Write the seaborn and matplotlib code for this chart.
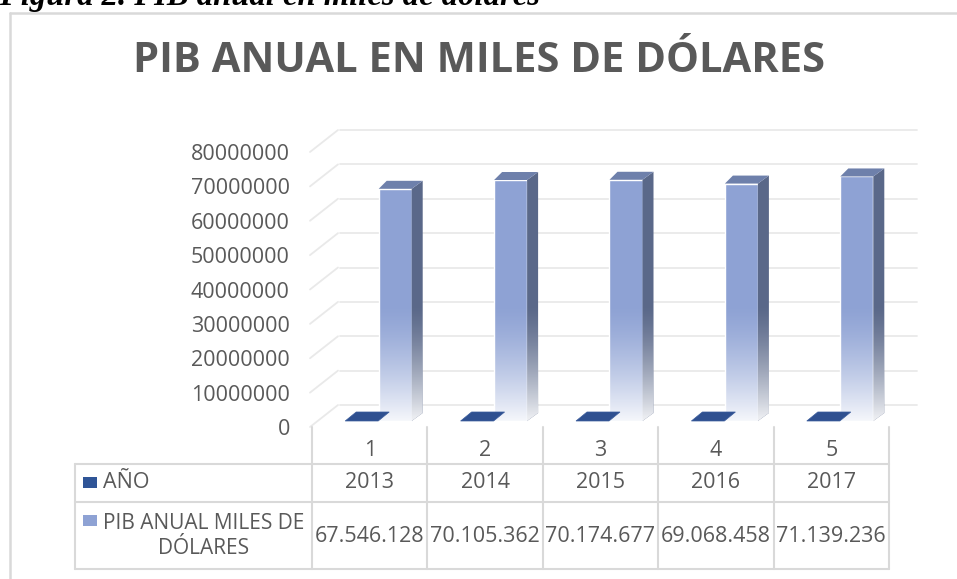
import numpy as np
import pandas as pd
import seaborn as sns
import matplotlib.pyplot as plt
from matplotlib.patches import Polygon, Rectangle
from matplotlib.lines import Line2D

# datos del grafico
categorias = ["1", "2", "3", "4", "5"]
anios = [2013, 2014, 2015, 2016, 2017]
pib = [67546128, 70105362, 70174677, 69068458, 71139236]
pib_txt = ["67.546.128", "70.105.362", "70.174.677", "69.068.458", "71.139.236"]
yticks = list(range(0, 80000001, 10000000))

W, H = 957, 579
gris = "#595959"
linea = "#D9D9D9"

sns.set_style("white")
plt.rcParams['font.family'] = ['Open Sans', 'DejaVu Sans']

fig = plt.figure(figsize=(W / 100, H / 100), dpi=100)
ax = fig.add_axes([312 / W, 1 - 427 / H, (889 - 312) / W, (427 - 152) / H])
ax.patch.set_visible(False)

df = pd.DataFrame({"cat": categorias, "anio": anios, "pib": pib})

sns.barplot(data=df, x="cat", y="pib", color="#8EA2D4", width=0.286,
            saturation=1, errorbar=None, ax=ax, zorder=3)
sns.barplot(data=df, x="cat", y="anio", color="#2F5597", width=0.286,
            saturation=1, errorbar=None, ax=ax, zorder=5)
bars = list(ax.patches)
pib_bars, anio_bars = bars[:5], bars[5:10]

# pixels -> data units (the axes has a fixed size)
sx = 5 / (889 - 312)
sy = 80e6 / (427 - 152)


def fx(px):
    return px / W


def fy(py):
    return 1 - py / H


# back wall grid + side wall diagonals (fake 3d)
for v in yticks:
    ax.plot([-0.5 + 28 * sx, 4.5 + 28 * sx], [v + 22 * sy] * 2, color="#E9E9E9",
            lw=1.3, clip_on=False, zorder=1)
    ax.plot([-0.5 - 2 * sx, -0.5 + 26 * sx], [v, v + 22 * sy], color="#E9E9E9",
            lw=1.3, clip_on=False, zorder=1)

# fade to white near the floor
n = 256
t = np.linspace(0, 1, n)
grad = np.ones((n, 1, 4))
grad[:, 0, 3] = 0.94 * (1 - t) ** 1.4

# PIB bars: front, side and top faces
ddx, ddy = 11 * sx, 8 * sy
for p in pib_bars:
    p.set_x(p.get_x() + 25.5 * sx)
    p.set_y(6 * sy)
    p.set_clip_on(False)
    x0 = p.get_x()
    x1 = x0 + p.get_width()
    y0 = p.get_y()
    y1 = y0 + p.get_height()
    side = Polygon([(x1, y0), (x1, y1), (x1 + ddx, y1 + ddy), (x1 + ddx, y0 + ddy)],
                   closed=True, facecolor="#5A6889", edgecolor="none", zorder=3, clip_on=False)
    top = Polygon([(x0, y1), (x1, y1), (x1 + ddx, y1 + ddy), (x0 + 8 * sx, y1 + ddy)],
                  closed=True, facecolor="#6E80AB", edgecolor="none", zorder=3, clip_on=False)
    ax.add_patch(side)
    ax.add_patch(top)
    clip = Polygon([(x0, y0), (x1, y0), (x1 + ddx, y0 + ddy), (x1 + ddx, y1 + ddy),
                    (x1, y1), (x0, y1)], closed=True, transform=ax.transData)
    im = ax.imshow(grad, extent=(x0, x1 + ddx, y0 - 2 * sy, y0 + 34e6), origin="lower",
                   aspect="auto", interpolation="bilinear", zorder=4)
    im.set_clip_path(clip)
    im.set_clip_box(None)

# AÑO bars are almost zero on this scale: only the top face shows
for p in anio_bars:
    p.set_x(p.get_x() - 8 * sx)
    p.set_y(6 * sy)
    p.set_clip_on(False)
    x0 = p.get_x()
    x1 = x0 + p.get_width()
    y1 = p.get_y() + p.get_height()
    ax.add_patch(Polygon([(x0, y1), (x1, y1), (x1 + 11 * sx, y1 + 9 * sy), (x0 + 11 * sx, y1 + 9 * sy)],
                         closed=True, facecolor="#2F5090", edgecolor="#3A5C9C", lw=0.5,
                         zorder=5, clip_on=False))

ax.set_xlim(-0.5, 4.5)
ax.set_ylim(0, 80e6)
ax.set_yticks(yticks, labels=[str(v) for v in yticks])
ax.tick_params(axis="y", length=0, pad=16, labelsize=15.5, labelcolor=gris)
ax.tick_params(axis="x", length=0, pad=9, labelsize=15.5, labelcolor=gris)
ax.set_xlabel("")
ax.set_ylabel("")
sns.despine(ax=ax, left=True, bottom=True)

# data table under the chart
bx = [ax.transData.transform((i - 0.5, 0))[0] for i in range(6)]
for b in bx:
    fig.add_artist(Line2D([fx(b), fx(b)], [fy(427), fy(569)], color=linea, lw=1.5))
fig.add_artist(Line2D([fx(75), fx(75)], [fy(464), fy(569)], color=linea, lw=1.5))
for yy in (464, 502, 569):
    fig.add_artist(Line2D([fx(75), fx(bx[-1])], [fy(yy), fy(yy)], color=linea, lw=1.5))

for i in range(5):
    cx = fx((bx[i] + bx[i + 1]) / 2)
    fig.text(cx, fy(483), str(anios[i]), ha="center", va="center", fontsize=15.5, color=gris)
    fig.text(cx, fy(536), pib_txt[i], ha="center", va="center", fontsize=15.5, color=gris)

fig.add_artist(Rectangle((fx(83), fy(488)), fx(14), 11 / H, transform=fig.transFigure,
                         facecolor="#2F5597", edgecolor="none"))
fig.add_artist(Rectangle((fx(83), fy(526)), fx(14), 11 / H, transform=fig.transFigure,
                         facecolor="#8EA2D4", edgecolor="none"))
fig.text(fx(103), fy(483), "AÑO", ha="left", va="center", fontsize=15.5, color=gris)
fig.text(fx(204), fy(536), "PIB ANUAL MILES DE\nDÓLARES", ha="center", va="center",
         multialignment="center", linespacing=1.3, fontsize=15, color=gris)

# chart title and outer frame
fig.text(fx(479), fy(62), "PIB ANUAL EN MILES DE DÓLARES", ha="center", va="center",
         fontsize=30, fontweight="bold", color=gris)
fig.add_artist(Line2D([fx(10), fx(10)], [fy(13), 0], color=linea, lw=1.8))
fig.add_artist(Line2D([fx(10), 1], [fy(13), fy(13)], color=linea, lw=1.8))

# document caption, cut at the top edge
fig.text(fx(-1), fy(5), "Figura 2. PIB anual en miles de dólares", family=["Liberation Serif"],
         fontweight="bold", fontstyle="italic", fontsize=23.5, va="baseline", color="black")

fig.savefig("out.png", dpi=100)
